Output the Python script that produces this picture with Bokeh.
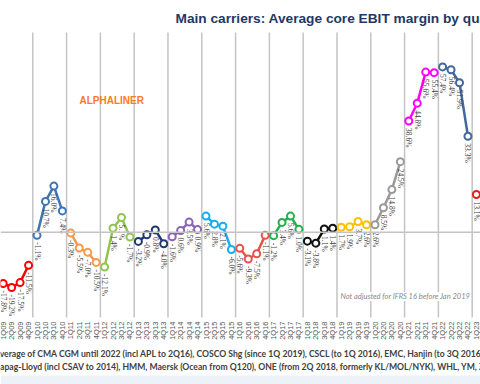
import math
from bokeh.plotting import figure
from bokeh.models import Range1d, Span, Label, ColumnDataSource, BoxAnnotation
from bokeh.core.properties import value
from bokeh.embed import file_html
from bokeh.resources import INLINE

years = [2009, 2010, 2011, 2012, 2013, 2014, 2015, 2016, 2017, 2018, 2019, 2020, 2021, 2022, 2023]
m2009 = [-17.8, -19.2, -17.5, -11.5]
m2010 = [-1.1, 10.7, 16.0, 7.4]
m2011 = [-0.3, -5.5, -7.0, -10.5]
m2012 = [-12.1, 1.4, 5.1, -1.7]
m2013 = [-3.2, -0.9, 0.8, -4.0]
m2014 = [-1.6, 0.6, 3.5, 0.9]
m2015 = [5.6, 2.8, 2.1, -6.0]
m2016 = [-5.6, -9.3, -7.5, -1.1]
m2017 = [-1.2, 3.4, 5.6, 1.0]
m2018 = [-3.1, -3.8, 1.1, 1.4]
m2019 = [1.7, 1.9, 3.7, 2.6]
m2020 = [2.6, 8.5, 14.8, 24.5]
m2021 = [38.6, 44.8, 55.6, 55.4]
m2022 = [57.4, 56.4, 51.9, 33.3]
m2023 = [13.1]
series = [m2009, m2010, m2011, m2012, m2013, m2014, m2015, m2016, m2017,
          m2018, m2019, m2020, m2021, m2022, m2023]
year_colors = ["#FF0000", "#3F74B5", "#F79A4B", "#92C450", "#1F3A70", "#8B64B8",
               "#16AEEF", "#E5534B", "#22B04B", "#111111", "#FFC000", "#9A9A9A",
               "#FF00FF", "#41699C", "#E0201A"]
quarter_names = ["1Q", "2Q", "3Q", "4Q"]

title_text = "Main carriers: Average core EBIT margin by quarter"
brand_text = "ALPHALINER"
note_text = "Not adjusted for IFRS 16 before Jan 2019"
footer_1 = "Average of CMA CGM until 2022 (incl APL to 2Q16), COSCO Shg (since 1Q 2019), CSCL (to 1Q 2016), EMC, Hanjin (to 3Q 2016),"
footer_2 = "Hapag-Lloyd (incl CSAV to 2014), HMM, Maersk (Ocean from Q120), ONE (from 2Q 2018, formerly KL/MOL/NYK), WHL, YM, ZIM"

# pixel scale helpers (quarter width ~8.45px, 1% ~2.88px)
PXQ = 8.45
PXV = 2.88
X0 = 2.7      # pixel of first quarter
Y0 = 231.7    # pixel of zero line


def qx_of(px):
    return (px - X0) / PXQ


def v_of(py):
    return (Y0 - py) / PXV


W, H = 480, 384
p = figure(width=W, height=H, output_backend="svg", toolbar_location=None,
           x_range=Range1d(qx_of(0), qx_of(W)), y_range=Range1d(v_of(H), v_of(0)),
           x_axis_location=None, y_axis_location=None, min_border=0)
p.outline_line_color = None
p.xgrid.visible = False
p.ygrid.visible = False
p.background_fill_color = "white"

grid_top = v_of(32)
grid_bot = v_of(317)

# bottom band
p.add_layout(BoxAnnotation(top=v_of(375), fill_color="#EDF2F9", fill_alpha=1.0,
                           line_color=None))

# vertical year gridlines
gx = [k * 4 - 0.5 for k in range(1, len(years))]
p.segment(x0=gx, y0=[grid_bot] * len(gx), x1=gx, y1=[grid_top] * len(gx),
          line_color="#C4C4C4", line_width=1.5)

# zero line
p.add_layout(Span(location=0, dimension="width", line_color="#C4C4C4", line_width=1.5))

# note with white background
p.add_layout(Label(x=qx_of(340), y=v_of(296), text=note_text, text_align="left",
                   text_baseline="middle", text_font="Lato", text_font_style="italic",
                   text_font_size="7.5px", text_color="#8A8A8A",
                   background_fill_color="white", background_fill_alpha=1.0))

label_x, label_y, label_t = [], [], []
idx = 0
for yr, vals, col in zip(years, series, year_colors):
    xs = list(range(idx, idx + len(vals)))
    src = ColumnDataSource(dict(x=xs, y=vals))
    p.line("x", "y", source=src, line_color=col, line_width=2.5)
    p.scatter("x", "y", source=src, size=7, line_color=col, line_width=2,
              fill_color="white")
    for x, v in zip(xs, vals):
        label_x.append(x)
        label_y.append(v - 7 / PXV)
        label_t.append(f"{v:.1f}%")
    idx += len(vals)

p.text(x=label_x, y=label_y, text=label_t, angle=-math.pi / 2, text_align="left",
       text_baseline="middle", text_font=value("Liberation Serif"),
       text_font_size="7.5px", text_color="#404040")

# quarter tick labels
qx, qt = [], []
idx = 0
for yr, vals in zip(years, series):
    for k in range(len(vals)):
        qx.append(idx)
        qt.append(f"{quarter_names[k]}{yr % 100:02d}")
        idx += 1
p.text(x=qx, y=[v_of(321)] * len(qx), text=qt, angle=math.pi / 2, text_align="right",
       text_baseline="middle", text_font=value("Liberation Sans"),
       text_font_size="7.5px", text_color="#595959")

p.add_layout(Label(x=qx_of(175), y=v_of(18), text=title_text, text_align="left",
                   text_baseline="middle", text_font="Liberation Sans",
                   text_font_style="bold", text_font_size="13.7px", text_color="#1F3864"))
p.add_layout(Label(x=qx_of(79), y=v_of(100), text=brand_text, text_align="left",
                   text_baseline="middle", text_font="Liberation Sans",
                   text_font_style="bold", text_font_size="10px", text_color="#FF7A21"))
p.add_layout(Label(x=qx_of(-6.5), y=v_of(353), text=footer_1, text_align="left",
                   text_baseline="middle", text_font="Lato",
                   text_font_style="bold", text_font_size="8.65px", text_color="#404040"))
p.add_layout(Label(x=qx_of(-7), y=v_of(366), text=footer_2, text_align="left",
                   text_baseline="middle", text_font="Lato",
                   text_font_style="bold", text_font_size="8.65px", text_color="#404040"))

open("out.html", "w").write(file_html(p, INLINE))
